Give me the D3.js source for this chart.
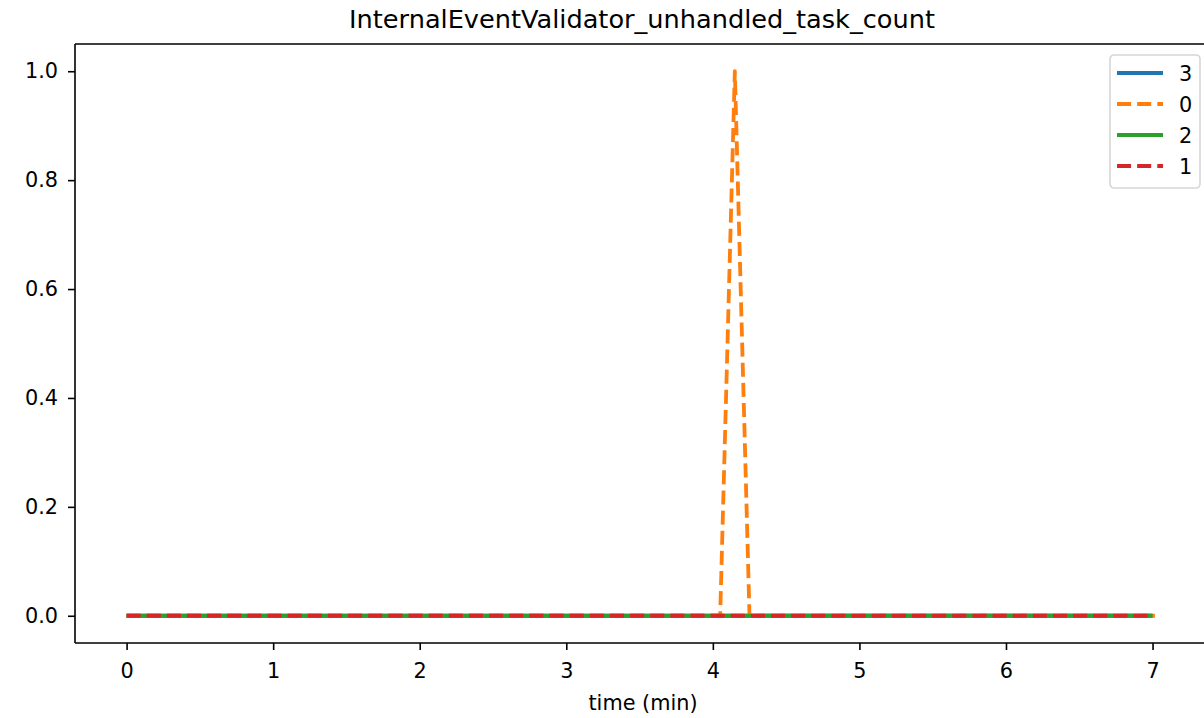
<!DOCTYPE html>
<html>
<head>
<meta charset="utf-8">
<script src="https://cdn.jsdelivr.net/npm/d3@7"></script>
<style>
  body { margin: 0; background: #fff; }
  text { font-family: "DejaVu Sans", sans-serif; }
</style>
</head>
<body>
<script>
var w = 1204;
var h = 718;

// series in legend order
var seriesNames = ["3", "0", "2", "1"];
var seriesColors = ["#1f77b4", "#ff7f0e", "#2ca02c", "#d62728"];
var seriesDashed = [false, true, false, true];

// time (min) and values for each series
var time3 = [0, 7.0];
var vals3 = [0, 0];
var time0 = [0, 4.05, 4.15, 4.25, 7.04];
var vals0 = [0, 0, 1, 0, 0];
var time2 = [0, 7.0];
var vals2 = [0, 0];
var time1 = [0, 7.0];
var vals1 = [0, 0];

var xTicks = [0, 1, 2, 3, 4, 5, 6, 7];
var yTicks = [0.0, 0.2, 0.4, 0.6, 0.8, 1.0];

var allTimes = [time3, time0, time2, time1];
var allVals = [vals3, vals0, vals2, vals1];

var pLeft = 75, pRight = 1210, pTop = 44, pBottom = 643;
var fs = 20.8;

var xMax = d3.max(allTimes, function (t) { return d3.max(t); });
var xPad = xMax * 0.05;
var x = d3.scaleLinear().domain([-xPad, xMax + xPad]).range([pLeft, pRight]);
var y = d3.scaleLinear().domain([-0.05, 1.05]).range([pBottom, pTop]);

var svg = d3.select("body").append("svg").attr("width", w).attr("height", h);

var line = d3.line()
    .x(function (d) { return x(d[0]); })
    .y(function (d) { return y(d[1]); });

var lw = 3.8;

svg.append("defs").append("clipPath").attr("id", "clip")
    .append("rect").attr("x", pLeft).attr("y", pTop)
    .attr("width", pRight - pLeft).attr("height", pBottom - pTop);

var plot = svg.append("g").attr("clip-path", "url(#clip)");

for (var i = 0; i < seriesNames.length; i++) {
    var pts = allTimes[i].map(function (t, j) { return [t, allVals[i][j]]; });
    plot.append("path")
        .datum(pts)
        .attr("d", line)
        .attr("fill", "none")
        .attr("stroke", seriesColors[i])
        .attr("stroke-width", lw)
        .attr("stroke-linejoin", "round")
        .attr("stroke-dasharray", seriesDashed[i] ? (lw * 3.7) + "," + (lw * 1.6) : null);
}

// axes
var xAxis = svg.append("g")
    .attr("transform", "translate(0," + pBottom + ")")
    .call(d3.axisBottom(x).tickValues(xTicks).tickFormat(d3.format("d")).tickSize(7).tickPadding(13));
var yAxis = svg.append("g")
    .attr("transform", "translate(" + pLeft + ",0)")
    .call(d3.axisLeft(y).tickValues(yTicks).tickFormat(d3.format(".1f")).tickSize(7).tickPadding(10));

[xAxis, yAxis].forEach(function (a) {
    a.selectAll("path").attr("stroke", "#000").attr("stroke-width", 1.6);
    a.selectAll("line").attr("stroke", "#000").attr("stroke-width", 1.6);
    a.selectAll("text").attr("fill", "#000").style("font-size", fs + "px").style("font-family", "DejaVu Sans");
});
xAxis.select(".domain").attr("d", "M" + pLeft + ",0H" + pRight);
yAxis.select(".domain").attr("d", "M0," + pTop + "V" + pBottom);

// top and right spines
svg.append("line").attr("x1", pLeft).attr("x2", pRight).attr("y1", pTop).attr("y2", pTop)
    .attr("stroke", "#000").attr("stroke-width", 1.6);
svg.append("line").attr("x1", pRight).attr("x2", pRight).attr("y1", pTop).attr("y2", pBottom)
    .attr("stroke", "#000").attr("stroke-width", 1.6);

// title and label
svg.append("text")
    .attr("x", 642).attr("y", 28)
    .attr("text-anchor", "middle")
    .style("font-size", "25.6px")
    .text("InternalEventValidator_unhandled_task_count");

svg.append("text")
    .attr("x", 643).attr("y", 710)
    .attr("text-anchor", "middle")
    .style("font-size", fs + "px")
    .text("time (min)");

// legend
var lg = svg.append("g").attr("transform", "translate(1110,55)");
lg.append("rect")
    .attr("width", 90).attr("height", 133)
    .attr("rx", 4).attr("ry", 4)
    .attr("fill", "#fff").attr("fill-opacity", 0.8)
    .attr("stroke", "#d6d6d6").attr("stroke-width", 1.6);

seriesNames.forEach(function (name, i) {
    var yy = 18 + i * 31;
    lg.append("line")
        .attr("x1", 7).attr("x2", 53).attr("y1", yy).attr("y2", yy)
        .attr("stroke", seriesColors[i])
        .attr("stroke-width", lw)
        .attr("stroke-dasharray", seriesDashed[i] ? (lw * 3.7) + "," + (lw * 1.6) : null);
    lg.append("text")
        .attr("x", 69).attr("y", yy + 7.5)
        .style("font-size", fs + "px")
        .text(name);
});
</script>
</body>
</html>
